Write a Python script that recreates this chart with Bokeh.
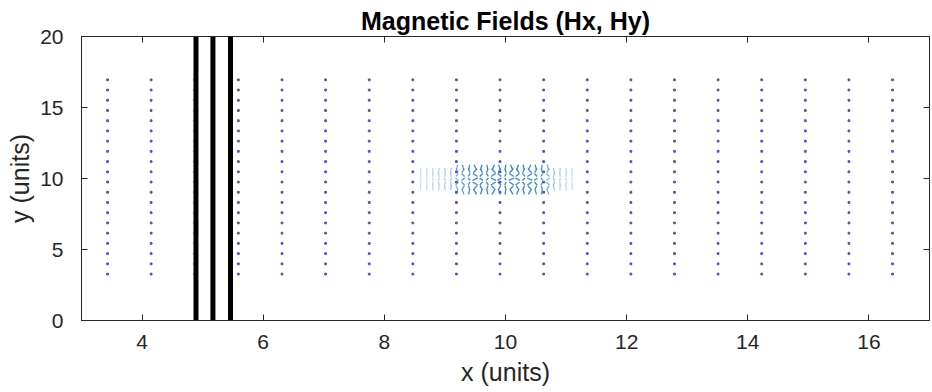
from bokeh.plotting import figure
from bokeh.models import LinearAxis, Range1d, FixedTicker
from bokeh.embed import file_html
from bokeh.resources import INLINE

# coarse field grid (near-zero vectors, drawn as dots)
grid_x = [3.43, 4.15, 4.87, 5.59, 6.31, 7.03, 7.75, 8.47, 9.19, 9.91,
          10.63, 11.35, 12.07, 12.79, 13.51, 14.23, 14.95, 15.67, 16.39]
grid_y = [3.27, 3.99, 4.71, 5.43, 6.15, 6.87, 7.59, 8.31, 9.03, 9.75,
          10.47, 11.19, 11.91, 12.63, 13.35, 14.07, 14.79, 15.51, 16.23, 16.95]

# walls (thick black vertical lines)
wall_x = [4.89, 5.17, 5.46]

# magnetic pulse: fine columns, amplitude envelope, rows and per-row directions
pulse_x = [8.6, 8.7, 8.8, 8.9, 9.0, 9.1, 9.2, 9.3, 9.4, 9.5, 9.6, 9.7, 9.8,
           9.9, 10.0, 10.1, 10.2, 10.3, 10.4, 10.5, 10.6, 10.7, 10.8, 10.9, 11.0, 11.1]
pulse_amp = [0.10, 0.14, 0.18, 0.22, 0.28, 0.36, 0.55, 0.80, 0.95, 1.0, 1.0, 1.0, 1.0,
             1.0, 1.0, 1.0, 1.0, 1.0, 1.0, 0.95, 0.85, 0.60, 0.40, 0.28, 0.18, 0.12]
pulse_y = [9.05, 9.35, 9.65, 9.95, 10.25, 10.55, 10.8]
row_u = [0.5, -0.7, 0.9, -1.0, 0.9, -0.7, 0.4]
row_v = [0.8, 0.7, 0.5, 0.4, 0.5, 0.7, 0.8]
col_tilt = [1.0, -0.6, 0.3, -1.0, 0.7, -0.3, 1.0, -0.8, 0.4, -1.0, 0.6, -0.4, 1.0,
            -0.7, 0.3, -1.0, 0.8, -0.5, 1.0, -0.6, 0.4, -1.0, 0.7, -0.3, 1.0, -0.6]

x_ticks = [4, 6, 8, 10, 12, 14, 16]
y_ticks = [0, 5, 10, 15, 20]

gx, gy = [], []
for xv in grid_x:
    for yv in grid_y:
        gx.append(xv)
        gy.append(yv)

x0, y0, x1, y1, al = [], [], [], [], []
for i, xv in enumerate(pulse_x):
    a = pulse_amp[i]
    for j, yv in enumerate(pulse_y):
        if a < 0.5 and (j == 0 or j == len(pulse_y) - 1):
            continue
        dx = 0.09 * a * row_u[j] * col_tilt[i]
        dy = 0.42 * row_v[j] * (1.0 if a > 0.5 else 1.3)
        x0.append(xv - dx / 2)
        x1.append(xv + dx / 2)
        y0.append(yv - dy / 2)
        y1.append(yv + dy / 2)
        al.append(0.15 + 0.75 * a)

p = figure(frame_width=848, frame_height=284,
           x_range=Range1d(3, 17), y_range=Range1d(0, 20),
           output_backend="svg", toolbar_location=None,
           min_border_left=81, min_border_right=3,
           min_border_top=36, min_border_bottom=72,
           background_fill_color="white", border_fill_color="white")

p.grid.visible = False
p.outline_line_color = "#262626"

axcol = "#262626"
p.xaxis.ticker = FixedTicker(ticks=x_ticks)
p.yaxis.ticker = FixedTicker(ticks=y_ticks)
for ax in [p.xaxis[0], p.yaxis[0]]:
    ax.major_tick_in = 6
    ax.major_tick_out = 0
    ax.minor_tick_in = 0
    ax.minor_tick_out = 0
    ax.axis_line_color = axcol
    ax.major_tick_line_color = axcol
    ax.major_label_text_font = "Liberation Sans"
    ax.major_label_text_font_size = "21px"
    ax.major_label_text_color = axcol
    ax.axis_label_text_font = "Liberation Sans"
    ax.axis_label_text_font_size = "25px"
    ax.axis_label_text_font_style = "normal"
    ax.axis_label_text_color = axcol
p.xaxis.axis_label = "x (units)"
p.yaxis.axis_label = "y (units)"
p.xaxis.major_label_standoff = 14
p.yaxis.major_label_standoff = 18
p.xaxis.axis_label_standoff = 6
p.yaxis.axis_label_standoff = 3

for loc, tk in [("above", x_ticks), ("right", y_ticks)]:
    ax = LinearAxis(ticker=FixedTicker(ticks=tk))
    ax.major_tick_in = 6
    ax.major_tick_out = 0
    ax.minor_tick_in = 0
    ax.minor_tick_out = 0
    ax.major_label_text_font_size = "1px"
    ax.major_label_text_color = None
    ax.major_label_standoff = 0
    ax.axis_line_color = axcol
    ax.major_tick_line_color = axcol
    p.add_layout(ax, loc)

p.title.text = "Magnetic Fields (Hx, Hy)"
p.title.align = "center"
p.title.text_font = "Liberation Sans"
p.title.text_font_style = "bold"
p.title.text_font_size = "25px"
p.title.text_color = "black"
p.title.standoff = 4

p.scatter(gx, gy, marker="square", size=1.8, color="#4a3fc2", alpha=0.85)

p.segment(x0=x0, y0=y0, x1=x1, y1=y1, line_color="#1f7ac9",
          line_alpha=al, line_width=1.3)

p.segment(x0=wall_x, y0=[0] * len(wall_x), x1=wall_x, y1=[20] * len(wall_x),
          line_color="black", line_width=5)

open("out.html", "w").write(file_html(p, INLINE))
